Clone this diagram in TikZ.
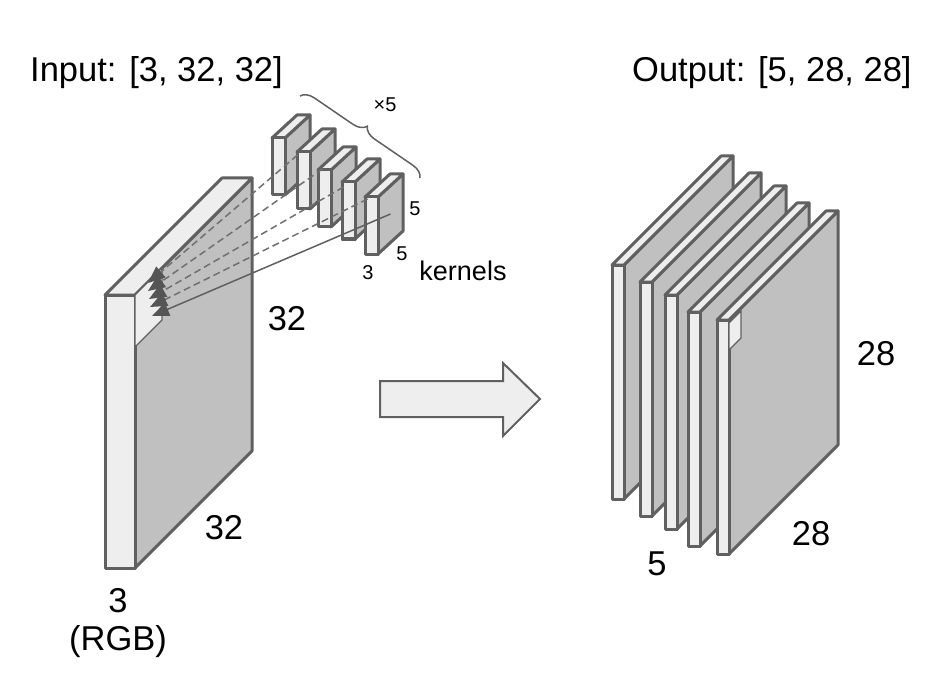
\documentclass[tikz,border=0pt]{standalone}
\usepackage{fontspec}
\setmainfont{Liberation Sans}
\usetikzlibrary{arrows.meta,decorations.pathreplacing}
\definecolor{edge}{HTML}{606060}
\definecolor{lite}{HTML}{EEEEEE}
\definecolor{side}{HTML}{C0C0C0}
\definecolor{dashc}{HTML}{707070}
\definecolor{tipc}{HTML}{555555}
\newcommand\drawbox[6]{%
  \filldraw[boxline,fill=side] (#1+#3,#2) -- (#1+#3+#5,#2+#6) -- (#1+#3+#5,#2+#6+#4) -- (#1+#3,#2+#4) -- cycle;
  \filldraw[boxline,fill=lite] (#1,#2) -- (#1+#5,#2+#6) -- (#1+#3+#5,#2+#6) -- (#1+#3,#2) -- cycle;
  \filldraw[boxline,fill=lite] (#1,#2) rectangle (#1+#3,#2+#4);
}
\tikzset{
  boxline/.style={draw=edge,line width=3pt,line join=round},
  bigtxt/.style={font=\fontsize{34.5}{40}\selectfont,anchor=base,inner sep=0pt},
  smalltxt/.style={font=\fontsize{20}{24}\selectfont,anchor=base,inner sep=0pt},
  dashln/.style={draw=dashc,line width=1.5pt,dash pattern=on 7pt off 4pt,-{Triangle[length=17pt,width=14pt,color=tipc]}},
  solidln/.style={draw=edge,line width=1.5pt,-{Triangle[length=17pt,width=14pt,color=tipc]}},
}
\begin{document}
\begin{tikzpicture}[x=1pt,y=-1pt]
\useasboundingbox (0,0) rectangle (946,682);
% input block
\drawbox{105}{295}{30}{273}{117}{-117}
\filldraw[fill=lite,draw=edge,line width=1.2pt] (135,295) -- (162,268) -- (162,320) -- (135,347) -- cycle;
% kernels
\drawbox{272}{138}{13}{57}{25}{-23}
\drawbox{297}{152}{13}{57}{25}{-23}
\drawbox{318}{170}{13}{57}{25}{-23}
\drawbox{342}{182}{13}{57}{25}{-23}
\drawbox{365}{197}{13}{57}{25}{-23}
% connectors
\coordinate (k1) at (297.5,155);
\coordinate (k2) at (322.5,169);
\coordinate (k3) at (343.5,187);
\coordinate (k4) at (367.5,199);
\coordinate (k5) at (390.5,214);
\coordinate (p1) at (148,283);
\coordinate (p2) at (148,291);
\coordinate (p3) at (149,299);
\coordinate (p4) at (150,307);
\coordinate (p5) at (152,316);
\draw[dashln] (k1) -- (p1);
\draw[dashln] (k2) -- (p2);
\draw[dashln] (k3) -- (p3);
\draw[dashln] (k4) -- (p4);
\draw[solidln] (k5) -- (p5);
% brace
\draw[draw=edge,line width=1.5pt,decorate,decoration={brace,amplitude=13pt}] (300,96) -- (420,178);
% arrow
\filldraw[fill=lite,draw=edge,line width=2pt,line join=miter] (380,381) -- (503,381) -- (503,363) -- (540,399) -- (503,436) -- (503,417) -- (380,417) -- cycle;
% output slabs
\drawbox{612}{265}{12}{234}{109}{-109}
\drawbox{640}{282}{12}{234}{109}{-109}
\drawbox{665}{295}{12}{234}{109}{-109}
\drawbox{688}{312}{12}{234}{109}{-109}
\drawbox{717}{320}{12}{234}{109}{-109}
\filldraw[fill=lite,draw=edge,line width=1.2pt] (729,323) -- (741,311) -- (741,338) -- (729,350) -- cycle;
% labels
\node[bigtxt,anchor=base west] (tin) at (30,82) {Input: [3, 32, 32]};
\node[bigtxt,anchor=base west] (tout) at (632,82) {Output: [5, 28, 28]};
\node[bigtxt] (l32a) at (287,330) {32};
\node[bigtxt] (l32b) at (224,539) {32};
\node[bigtxt] (l3) at (118,612) {3};
\node[bigtxt] (lrgb) at (118,650) {(RGB)};
\node[bigtxt] (l28a) at (876,365) {28};
\node[bigtxt] (l28b) at (811,545) {28};
\node[bigtxt] (l5) at (657,575) {5};
\node[smalltxt] (k5a) at (415,215) {5};
\node[smalltxt] (k5b) at (402,260) {5};
\node[smalltxt] (k3l) at (368,279) {3};
\node[smalltxt] (times) at (385,112) {×5};
\node[font=\fontsize{27}{32}\selectfont,anchor=base,inner sep=0pt] (kern) at (463,280) {kernels};
\end{tikzpicture}
\end{document}
